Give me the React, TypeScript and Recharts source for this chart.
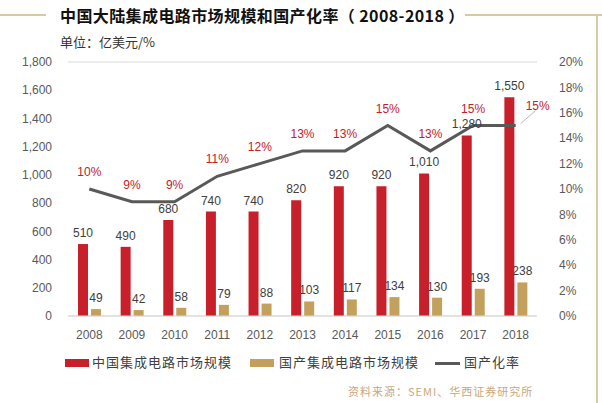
import React from "react";
import { ComposedChart, Bar, Line, XAxis, YAxis, CartesianGrid, LabelList } from "recharts";

const years = ["2008", "2009", "2010", "2011", "2012", "2013", "2014", "2015", "2016", "2017", "2018"];
const marketSize = [510, 490, 680, 740, 740, 820, 920, 920, 1010, 1280, 1550];
const domesticSize = [49, 42, 58, 79, 88, 103, 117, 134, 130, 193, 238];
const localizationRate = [10, 9, 9, 11, 12, 13, 13, 15, 13, 15, 15];
const leftTicks = [0, 200, 400, 600, 800, 1000, 1200, 1400, 1600, 1800];
const rightTicks = [0, 2, 4, 6, 8, 10, 12, 14, 16, 18, 20];

const data = years.map((y, i) => ({
  year: y,
  market: marketSize[i],
  domestic: domesticSize[i],
  rate: localizationRate[i],
}));

const RED = "#C8202A";
const TAN = "#C3A15C";
const LINE = "#595959";
const LABEL_RED = "#C0222B";
const TICK = "#595959";
const CJK = "'Noto Sans CJK SC', sans-serif";
const LATIN = "'Liberation Sans', 'Noto Sans CJK SC', sans-serif";

const RateLabel = (props: any) => {
  const { x, y, value, index } = props;
  if (index === years.length - 1) {
    return (
      <g>
        <line x1={x + 5} y1={y - 2} x2={x + 20} y2={y - 15} stroke="#A6A6A6" strokeWidth={0.8} />
        <text x={x + 22} y={y - 16} fill={LABEL_RED} fontSize={12} fontFamily={LATIN} textAnchor="middle">
          {value}%
        </text>
      </g>
    );
  }
  return (
    <text x={x} y={y - 13} fill={LABEL_RED} fontSize={12} fontFamily={LATIN} textAnchor="middle">
      {value}%
    </text>
  );
};

const fmt = (v: any) => Number(v).toLocaleString("en-US");

export default function App() {
  return (
    <div style={{ position: "absolute", left: 0, top: 0, width: 602, height: 403, background: "#fff", overflow: "hidden" }}>
      {/* frame lines */}
      <div style={{ position: "absolute", left: 0, top: 14, width: 46, height: 1.5, background: "#D8C9A6" }} />
      <div style={{ position: "absolute", left: 465, top: 14, width: 137, height: 1.5, background: "#D8C9A6" }} />
      <div style={{ position: "absolute", left: 596, top: 14, width: 1.5, height: 389, background: "#D8C9A6" }} />
      <div style={{ position: "absolute", left: 60, top: 3, fontFamily: CJK, fontWeight: 700, fontSize: 16, color: "#111", whiteSpace: "nowrap", lineHeight: "24px", letterSpacing: 0.4 }}>
        中国大陆集成电路市场规模和国产化率（ 2008-2018 ）
      </div>
      <div style={{ position: "absolute", left: 60, top: 33, fontFamily: CJK, fontSize: 13, color: "#333", whiteSpace: "nowrap", lineHeight: "18px" }}>
        单位：亿美元/%
      </div>
      <div style={{ position: "absolute", left: 0, top: 0 }}>
        <ComposedChart width={602} height={403} data={data} margin={{ top: 62, right: 0, bottom: 57, left: 0 }} barSize={10} barGap={3}>
          <CartesianGrid vertical={false} stroke="#D9D9D9" />
          <XAxis dataKey="year" axisLine={{ stroke: "#D9D9D9" }} tickLine={false} height={30}
            tick={{ fill: TICK, fontSize: 12, fontFamily: LATIN }} tickMargin={8} />
          <YAxis yAxisId="left" width={68} domain={[0, 1800]} ticks={leftTicks} axisLine={false} tickLine={false}
            tickFormatter={fmt} tick={{ fill: TICK, fontSize: 12, fontFamily: LATIN }} tickMargin={10} />
          <YAxis yAxisId="right" orientation="right" width={65} domain={[0, 20]} ticks={rightTicks} axisLine={false} tickLine={false}
            tickFormatter={(v: any) => `${v}%`} tick={{ fill: TICK, fontSize: 12, fontFamily: LATIN }} tickMargin={16} />
          <Bar yAxisId="left" dataKey="market" fill={RED} isAnimationActive={false}>
            <LabelList dataKey="market" position="top" offset={7} formatter={fmt} fill="#404040" fontSize={12} fontFamily={LATIN} />
          </Bar>
          <Bar yAxisId="left" dataKey="domestic" fill={TAN} isAnimationActive={false}>
            <LabelList dataKey="domestic" position="top" offset={7} formatter={fmt} fill="#404040" fontSize={12} fontFamily={LATIN} />
          </Bar>
          <Line yAxisId="right" dataKey="rate" stroke={LINE} strokeWidth={3} dot={false} isAnimationActive={false}>
            <LabelList dataKey="rate" content={<RateLabel />} />
          </Line>
        </ComposedChart>
      </div>
      {/* legend */}
      <div style={{ position: "absolute", left: 65, top: 359, width: 24, height: 8, background: RED }} />
      <div style={{ position: "absolute", left: 92, top: 353, fontFamily: CJK, fontSize: 13, color: "#404040", whiteSpace: "nowrap", lineHeight: "18px", letterSpacing: 1 }}>中国集成电路市场规模</div>
      <div style={{ position: "absolute", left: 250, top: 359, width: 24, height: 8, background: TAN }} />
      <div style={{ position: "absolute", left: 279, top: 353, fontFamily: CJK, fontSize: 13, color: "#404040", whiteSpace: "nowrap", lineHeight: "18px", letterSpacing: 1 }}>国产集成电路市场规模</div>
      <div style={{ position: "absolute", left: 435, top: 362, width: 25, height: 3, background: LINE }} />
      <div style={{ position: "absolute", left: 464, top: 353, fontFamily: CJK, fontSize: 13, color: "#404040", whiteSpace: "nowrap", lineHeight: "18px", letterSpacing: 1 }}>国产化率</div>
      <div style={{ position: "absolute", left: 348, top: 382, fontFamily: CJK, fontSize: 11, color: "#C9A77C", whiteSpace: "nowrap", lineHeight: "18px", letterSpacing: 1 }}>资料来源：SEMI、华西证券研究所</div>
    </div>
  );
}
